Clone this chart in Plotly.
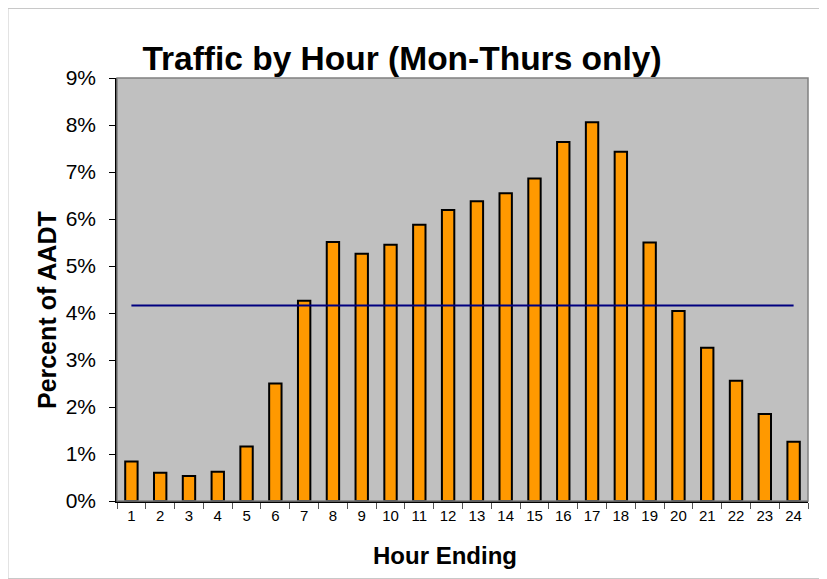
import plotly.graph_objects as go

hours = [str(h) for h in range(1, 25)]
pct_aadt = [0.84, 0.60, 0.53, 0.62, 1.16, 2.50, 4.26, 5.51, 5.26, 5.45, 5.88, 6.19,
            6.38, 6.55, 6.86, 7.64, 8.06, 7.43, 5.50, 4.04, 3.26, 2.56, 1.85, 1.26]
avg_pct = [4.16] * 24

# page body has an 8px margin, so the figure is made 8px smaller and margins shifted
W, H = 819, 571
L, R, T, B = 109, 19, 70, 78
pw, ph = W - L - R, H - T - B

fig = go.Figure()
fig.add_trace(go.Bar(
    x=hours, y=pct_aadt,
    marker=dict(color="#FF9900", line=dict(color="black", width=2)),
    width=0.43, showlegend=False,
))
fig.add_trace(go.Scatter(
    x=hours, y=avg_pct, mode="lines",
    line=dict(color="#000080", width=2), showlegend=False,
))

fig.update_layout(
    width=W, height=H,
    margin=dict(l=L, r=R, t=T, b=B),
    paper_bgcolor="white", plot_bgcolor="#C0C0C0",
    font=dict(family="Liberation Sans, Arial", color="black"),
    title=dict(text="<b>Traffic by Hour (Mon-Thurs only)</b>", x=394 / W, xanchor="center",
               y=1 - 50 / H, yanchor="middle", font=dict(size=33.5)),
    shapes=[
        dict(type="rect", xref="paper", yref="paper", x0=0, x1=1, y0=0, y1=1,
             line=dict(color="#808080", width=1.5), layer="above"),
        dict(type="rect", xref="paper", yref="paper", x0=-L / pw, x1=1 + (R - 0.5) / pw,
             y0=-(B - 0.5) / ph, y1=1 + (T - 0.5) / ph, line=dict(color="#C8C8C8", width=1)),
    ],
    annotations=[
        dict(text="<b>Hour Ending</b>", xref="paper", yref="paper",
             x=(436.5 - L) / pw, y=(H - B - 547) / ph, xanchor="center", yanchor="middle",
             showarrow=False, font=dict(size=24)),
        dict(text="<b>Percent of AADT</b>", xref="paper", yref="paper", textangle=-90,
             x=(39 - L) / pw, y=(H - B - 302) / ph, xanchor="center", yanchor="middle",
             showarrow=False, font=dict(size=25)),
    ],
)
fig.update_xaxes(
    type="category", tickson="boundaries", ticks="outside", ticklen=6, tickcolor="#555",
    showline=True, linecolor="black", linewidth=1.5, showgrid=False, automargin=False,
    tickfont=dict(size=15),
)
fig.update_yaxes(
    range=[0, 9], tickvals=list(range(10)), ticktext=[f"{v}%" for v in range(10)],
    ticks="outside", ticklen=6, tickcolor="black", ticklabelstandoff=9,
    showline=True, linecolor="black", linewidth=1.5, showgrid=False, zeroline=False, automargin=False,
    tickfont=dict(size=21),
)

fig.write_html("out.html")
